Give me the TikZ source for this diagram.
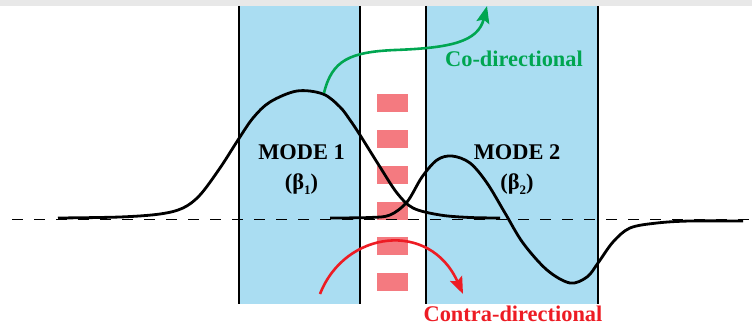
\documentclass[tikz,border=0pt]{standalone}
\usepackage{fontspec}
\setmainfont{Liberation Serif}
\usetikzlibrary{arrows.meta}
\definecolor{coreblue}{RGB}{170,221,242}
\definecolor{gratingred}{RGB}{244,122,128}
\definecolor{cogreen}{RGB}{0,166,81}
\definecolor{contrared}{RGB}{237,28,36}
\definecolor{bandgray}{RGB}{232,232,232}
\tikzset{
  core/.style={fill=coreblue,draw=none},
  wall/.style={line width=2pt,black},
  tooth/.style={fill=gratingred,draw=none},
  modecurve/.style={line width=2.8pt,black,line join=round},
  axisline/.style={line width=1.8pt,black,dash pattern=on 11pt off 11pt},
  lbl/.style={font=\fontsize{22.4}{26}\selectfont\bfseries,inner sep=0pt,anchor=base},
  coarrow/.style={line width=2.6pt,cogreen,-{Stealth[length=17pt,width=13pt,inset=3pt]}},
  contraarrow/.style={line width=2.6pt,contrared,-{Stealth[length=17pt,width=13pt,inset=3pt]}},
}
\begin{document}
\begin{tikzpicture}[x=1pt,y=-1pt]
\useasboundingbox (0,0) rectangle (752,326);
\fill[bandgray] (0,0) rectangle (752,6);
% cores
\fill[core] (239,6) rectangle (360,304);
\fill[core] (426,6) rectangle (598,304);
\draw[wall] (239,6) -- (239,304);
\draw[wall] (360,6) -- (360,304);
\draw[wall] (426,6) -- (426,304);
\draw[wall] (598,6) -- (598,304);
% grating
\foreach \yy in {94,130,166,202,237,273}
  \fill[tooth] (377,\yy) rectangle (408,\yy+18);
% axis
\draw[axisline] (12,219.5) -- (752,219.5);
% mode 1
\draw[modecurve] plot[smooth,tension=0.55] coordinates {(58,218) (120,217) (160,214) (183,208) (200,195) (220,168) (238,140) (253,118) (270,102) (297,91) (323,94) (340,107) (350,120) (360,135) (380,167) (397,193) (413,208) (440,215) (470,217.5) (500,218)};
% mode 2
\draw[modecurve] plot[smooth,tension=0.55] coordinates {(330,218) (370,217.5) (390,215) (407,202) (422,177) (437,160) (452,156) (470,163) (487,183) (505,213) (523,243) (547,270) (570,283) (587,277) (598,263) (613,242) (630,228) (657,223) (690,221) (743,221)};
% arrows
\coordinate (gs) at (324,93);
\coordinate (gm) at (395,50);
\coordinate (ge) at (487,6);
\draw[coarrow] (gs) .. controls (332,60) and (350,52) .. (gm) .. controls (450,48) and (478,42) .. (ge);
\coordinate (rs) at (320,294);
\coordinate (re) at (463,294);
\draw[contraarrow] (rs) .. controls (345,230) and (430,220) .. (re);
% labels
\node[lbl] (m1) at (301.5,160) {MODE 1};
\node[lbl] (b1) at (301.5,189) {(β\raisebox{-0.25em}{\fontsize{13}{13}\selectfont 1})};
\node[lbl] (m2) at (517,160) {MODE 2};
\node[lbl] (b2) at (517,189) {(β\raisebox{-0.25em}{\fontsize{13}{13}\selectfont 2})};
\node[lbl,text=cogreen] (co) at (514,67) {Co-directional};
\node[lbl,text=contrared] (ct) at (513,321) {Contra-directional};
\end{tikzpicture}
\end{document}
